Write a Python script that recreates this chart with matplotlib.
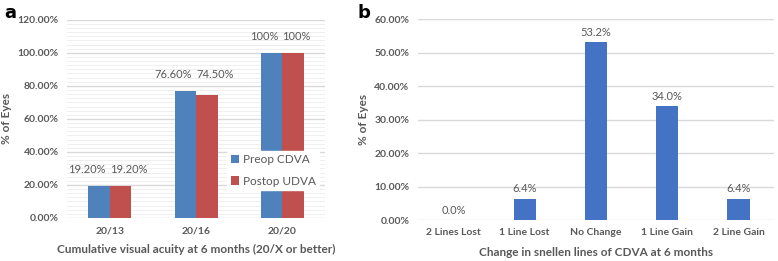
import numpy as np
import matplotlib.pyplot as plt
from matplotlib.ticker import PercentFormatter, MultipleLocator

plt.rcParams['font.family'] = ['Lato', 'DejaVu Sans']

# panel a
acuity = ['20/13', '20/16', '20/20']
preop_cdva = [19.2, 76.6, 100]
postop_udva = [19.2, 74.5, 100]
preop_labels = ['19.20%', '76.60%', '100%']
postop_labels = ['19.20%', '74.50%', '100%']

# panel b
change = ['2 Lines Lost', '1 Line Lost', 'No Change', '1 Line Gain', '2 Line Gain']
change_pct = [0.0, 6.4, 53.2, 34.0, 6.4]

blue = '#4F81BD'
red = '#C0504D'
blue_b = '#4472C4'
grey = '#595959'

fig = plt.figure(figsize=(7.78, 2.61), dpi=100)

#a
ax1 = fig.add_axes([0.086, 0.165, 0.332, 0.759])
x = np.arange(len(acuity))
w = 0.25
ax1.bar(x - w/2, preop_cdva, w, color=blue, label='Preop CDVA', zorder=3)
ax1.bar(x + w/2, postop_udva, w, color=red, label='Postop UDVA', zorder=3)
# labels sit side by side above each pair
for i in range(len(acuity)):
    top = max(preop_cdva[i], postop_udva[i])
    ax1.annotate(preop_labels[i], (x[i], top), xytext=(-3, 12), textcoords='offset points',
                 ha='right', va='center', fontsize=8, color=grey)
    ax1.annotate(postop_labels[i], (x[i], top), xytext=(0, 12), textcoords='offset points',
                 ha='left', va='center', fontsize=8, color=grey)
ax1.set_xlim(-0.5, 2.5)
ax1.set_ylim(0, 120)
ax1.yaxis.set_major_locator(MultipleLocator(20))
ax1.yaxis.set_minor_locator(MultipleLocator(2.5))
ax1.yaxis.set_major_formatter(PercentFormatter(decimals=2))
ax1.grid(axis='y', which='major', color='#D9D9D9', linewidth=1, zorder=0)
ax1.grid(axis='y', which='minor', color='#EDEDED', linewidth=0.6, zorder=0)
ax1.set_xticks(x)
ax1.set_xticklabels(acuity, fontweight='bold')
ax1.set_xlabel('Cumulative visual acuity at 6 months (20/X or better)',
               fontsize=8.5, fontweight='bold', color=grey, labelpad=6)
ax1.set_ylabel('% of Eyes', fontsize=8.5, fontweight='bold', color=grey)
leg = ax1.legend(loc='lower right', bbox_to_anchor=(1.0, 0.11), frameon=True,
                 fontsize=8.5, handlelength=0.7, handleheight=0.7,
                 handletextpad=0.3, labelspacing=0.9, borderpad=0.3,
                 labelcolor=grey)
leg.get_frame().set_edgecolor('white')
leg.get_frame().set_alpha(1)
leg.set_zorder(5)

#b
ax2 = fig.add_axes([0.537, 0.157, 0.458, 0.770])
x2 = np.arange(len(change))
b3 = ax2.bar(x2, change_pct, 0.31, color=blue_b, zorder=3)
ax2.bar_label(b3, labels=[f'{v:.1f}%' for v in change_pct], padding=3,
              fontsize=8, color=grey)
ax2.set_xlim(-0.5, 4.5)
ax2.set_ylim(0, 60)
ax2.yaxis.set_major_locator(MultipleLocator(10))
ax2.yaxis.set_major_formatter(PercentFormatter(decimals=2))
ax2.grid(axis='y', color='#D9D9D9', linewidth=1, zorder=0)
ax2.set_xticks(x2)
ax2.set_xticklabels(change, fontweight='bold')
ax2.set_xlabel('Change in snellen lines of CDVA at 6 months',
               fontsize=8.5, fontweight='bold', color=grey, labelpad=7)
ax2.set_ylabel('% of Eyes', fontsize=8.5, fontweight='bold', color=grey)

for ax in (ax1, ax2):
    for s in ax.spines.values():
        s.set_visible(False)
    ax.tick_params(length=0, labelsize=7.5, labelcolor=grey, pad=6)
    ax.tick_params(axis='y', which='minor', length=0)
    for t in ax.get_yticklabels():
        t.set_fontweight('bold')

fig.text(0.005, 0.985, 'a', fontsize=13, fontweight='bold', va='top', family='DejaVu Sans')
fig.text(0.46, 0.985, 'b', fontsize=13, fontweight='bold', va='top', family='DejaVu Sans')

fig.savefig('out.png', dpi=100)
